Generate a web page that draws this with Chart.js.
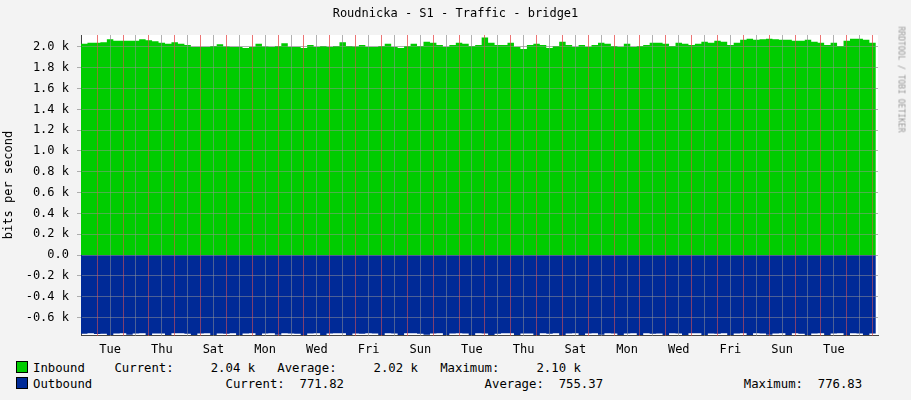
<!DOCTYPE html>
<html lang="en">
<head>
<meta charset="UTF-8">
<title>Roudnicka - S1 - Traffic - bridge1</title>
<style>
  body { margin: 0; background: #f3f3f3; font-family: "DejaVu Sans Mono", monospace; font-size: 12px; color: #000; }
  .wrap { position: relative; width: 911px; height: 400px; }
  #chart { position: absolute; left: 0; top: 0; }
  .titulo { position: absolute; top: 6px; left: 0; width: 911px; text-align: center; font-size: 12px; }
  .lateral { position: absolute; right: -70px; top: 75px; transform: rotate(90deg); font-size: 8px; color: #999; width: 160px; text-align: center; }
  .ylabel { position: absolute; left: -52px; top: 178px; transform: rotate(-90deg); width: 120px; text-align: center; }
  .legenda { position: absolute; left: 16px; white-space: pre; font-size: 12.3px; }
  .quad { display: inline-block; width: 10px; height: 10px; border: 1px solid #000; vertical-align: -1px; margin-right: 5px; }
</style>
</head>
<body>
<div class="wrap">
  <canvas id="chart" width="911" height="357"></canvas>
  <div class="titulo">Roudnicka - S1 - Traffic - bridge1</div>
  <div class="lateral">RRDTOOL / TOBI OETIKER</div>
  <div class="ylabel">bits per second</div>
  <div class="legenda" style="top:361px"><span class="quad" style="background:#00cc00"></span>Inbound    Current:     2.04 k   Average:     2.02 k   Maximum:     2.10 k</div>
  <div class="legenda" style="top:377px"><span class="quad" style="background:#002a97"></span>Outbound                  Current:  771.82                   Average:  755.37                   Maximum:  776.83</div>
</div>
<script src="https://cdn.jsdelivr.net/npm/chart.js@4/dist/chart.umd.min.js"></script>
<script>
// hours since the start (x axis), one sample every 6 hours
const horas = [];
for (let i = 0; i < 124; i++) horas.push(-15 + i * 6);

const diasLabels = ['Tue', 'Thu', 'Sat', 'Mon', 'Wed', 'Fri', 'Sun', 'Tue', 'Thu', 'Sat', 'Mon', 'Wed', 'Fri', 'Sun', 'Tue'];

// bits per second
const inbound = [
  2030, 2040, 2040, 2045, 2075, 2060, 2060, 2060, 2060, 2075, 2065, 2055,
  2040, 2030, 2045, 2030, 2020, 2000, 2000, 2000, 2010, 2025, 2005, 2000,
  2000, 1990, 2000, 2030, 2005, 2000, 2010, 2035, 2000, 2000, 1990, 2020,
  2000, 2010, 2000, 2010, 2045, 2010, 2005, 2020, 2000, 2000, 2010, 2030,
  2000, 1990, 2010, 2030, 2010, 2050, 2040, 2020, 2000, 2020, 2040, 2030,
  2010, 2020, 2090, 2040, 2020, 2020, 2040, 2000, 1980, 2020, 2030, 2020,
  1990, 2010, 2050, 2020, 2000, 2020, 2000, 2020, 2040, 2030, 2010, 2000,
  2030, 2000, 2010, 2020, 2040, 2040, 2030, 2010, 2040, 2030, 2020, 2030,
  2050, 2040, 2060, 2050, 2020, 2040, 2070, 2080, 2070, 2075, 2080, 2075,
  2070, 2070, 2060, 2060, 2070, 2050, 2040, 2020, 2040, 2010, 2060, 2080,
  2080, 2070, 2040, 2040
];
const outbound = [
  758, 752, 760, 756, 770, 755, 752, 766, 754, 752, 768, 754,
  755, 770, 753, 752, 756, 768, 754, 752, 770, 755, 756, 753,
  768, 754, 752, 770, 755, 753, 766, 752, 754, 756, 770, 754,
  752, 768, 755, 753, 752, 770, 754, 756, 752, 755, 768, 752,
  754, 770, 753, 752, 756, 766, 755, 752, 770, 754, 753, 755,
  768, 752, 754, 770, 756, 752, 753, 768, 755, 754, 770, 752,
  756, 753, 768, 754, 752, 770, 755, 753, 766, 752, 754, 770,
  755, 752, 768, 753, 756, 754, 770, 752, 755, 768, 753, 752,
  770, 754, 756, 752, 768, 755, 753, 770, 752, 754, 766, 755,
  752, 770, 753, 756, 768, 754, 752, 770, 755, 753, 768, 752,
  754, 770, 755, 772
];

const fundoBranco = {
  id: 'fundoBranco',
  beforeDraw(chart) {
    const a = chart.chartArea;
    chart.ctx.save();
    chart.ctx.fillStyle = '#ffffff';
    chart.ctx.fillRect(a.left, a.top, a.right - a.left, a.bottom - a.top);
    chart.ctx.restore();
  },
  // grade por cima das áreas, como no rrdtool
  afterDatasetsDraw(chart) {
    chart.scales.y.drawGrid(chart.chartArea);
    chart.scales.x.drawGrid(chart.chartArea);
  }
};

const fonte = { family: 'DejaVu Sans Mono', size: 12 };

new Chart(document.getElementById('chart'), {
  type: 'line',
  data: {
    datasets: [{
      label: 'Inbound',
      data: horas.map((h, i) => ({ x: h, y: inbound[i] })),
      backgroundColor: '#00cc00',
      borderColor: '#00cc00',
      borderWidth: 0,
      fill: 'origin',
      stepped: true,
      pointRadius: 0
    }, {
      label: 'Outbound',
      data: horas.map((h, i) => ({ x: h, y: -outbound[i] })),
      backgroundColor: '#002a97',
      borderColor: '#002a97',
      borderWidth: 0,
      fill: 'origin',
      stepped: true,
      pointRadius: 0
    }]
  },
  options: {
    responsive: false,
    animation: false,
    layout: { padding: { top: 35, right: 33, left: 0, bottom: 0 } },
    plugins: { legend: { display: false }, tooltip: { enabled: false } },
    scales: {
      x: {
        type: 'linear', min: -15, max: 725,
        afterBuildTicks(s) { const t = []; for (let v = 0; v <= 720; v += 12) t.push({ value: v }); s.ticks = t; },
        afterFit(s) { s.height = 0; },
        ticks: { display: false },
        border: { display: true, color: '#444' },
        grid: {
          color: c => (c.tick.value % 24 === 0 ? 'rgba(230,80,80,0.55)' : 'rgba(150,150,150,0.5)'),
          borderDash: [1, 2],
          tickLength: 0
        }
      },
      dias: {
        type: 'linear', position: 'bottom', min: -15, max: 725,
        afterBuildTicks(s) { s.ticks = diasLabels.map((d, i) => ({ value: 12 + i * 48 })); },
        afterFit(s) { s.height = 22; },
        ticks: { color: '#000', font: fonte, maxRotation: 0, padding: 0, autoSkip: false,
                 callback: (v, i) => diasLabels[i] },
        border: { display: false },
        grid: { display: false }
      },
      y: {
        min: -769, max: 2115,
        afterBuildTicks(s) { const t = []; for (let v = -600; v <= 2000; v += 200) t.push({ value: v }); s.ticks = t; },
        afterFit(s) { s.width = 81; },
        ticks: { color: '#000', font: fonte, padding: 8,
                 callback: v => (v === 0 ? '0.0' : (v / 1000).toFixed(1) + ' k') },
        border: { display: true, color: '#444' },
        grid: { color: 'rgba(150,150,150,0.5)', borderDash: [1, 2], tickLength: 4 }
      }
    }
  },
  plugins: [fundoBranco]
});
</script>
</body>
</html>
